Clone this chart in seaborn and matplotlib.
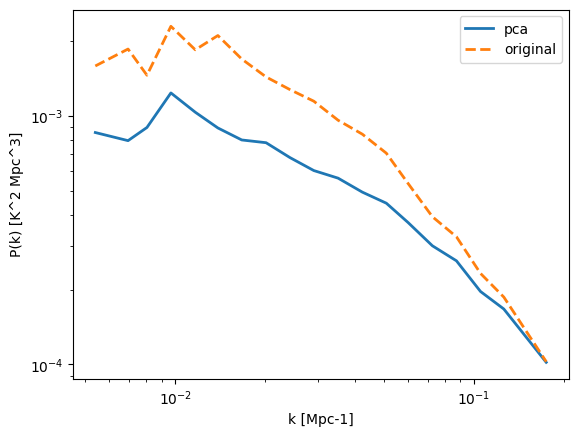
import matplotlib
matplotlib.use("Agg")
import matplotlib.pyplot as plt
import seaborn as sns
import pandas as pd

k = [0.00540, 0.00695, 0.00804, 0.00967, 0.01167, 0.01389, 0.01670, 0.02014,
     0.0242, 0.0291, 0.0351, 0.0423, 0.0509, 0.0602, 0.0726, 0.0874, 0.1052,
     0.1259, 0.1746]
pk_pca = [8.56e-4, 7.94e-4, 8.97e-4, 1.235e-3, 1.033e-3, 8.93e-4, 7.99e-4,
          7.79e-4, 6.79e-4, 6.02e-4, 5.61e-4, 4.93e-4, 4.45e-4, 3.72e-4,
          3.00e-4, 2.61e-4, 1.965e-4, 1.671e-4, 1.02e-4]
pk_orig = [1.585e-3, 1.854e-3, 1.455e-3, 2.288e-3, 1.841e-3, 2.101e-3,
           1.690e-3, 1.432e-3, 1.274e-3, 1.144e-3, 9.59e-4, 8.43e-4, 7.07e-4,
           5.34e-4, 3.926e-4, 3.26e-4, 2.323e-4, 1.866e-4, 1.026e-4]

df = pd.DataFrame({"k": k, "pca": pk_pca, "original": pk_orig})

fig, ax = plt.subplots(figsize=(6.4, 4.8), dpi=100)
sns.lineplot(data=df, x="k", y="pca", ax=ax, label="pca", color="#1f77b4",
             linewidth=2)
sns.lineplot(data=df, x="k", y="original", ax=ax, label="original",
             color="#ff7f0e", linewidth=2, linestyle="--")
ax.set_xscale("log")
ax.set_yscale("log")
ax.set_xlabel("k [Mpc-1]")
ax.set_ylabel("P(k) [K^2 Mpc^3]")
ax.legend(loc="upper right")
fig.savefig("out.png", dpi=100, bbox_inches="tight")
